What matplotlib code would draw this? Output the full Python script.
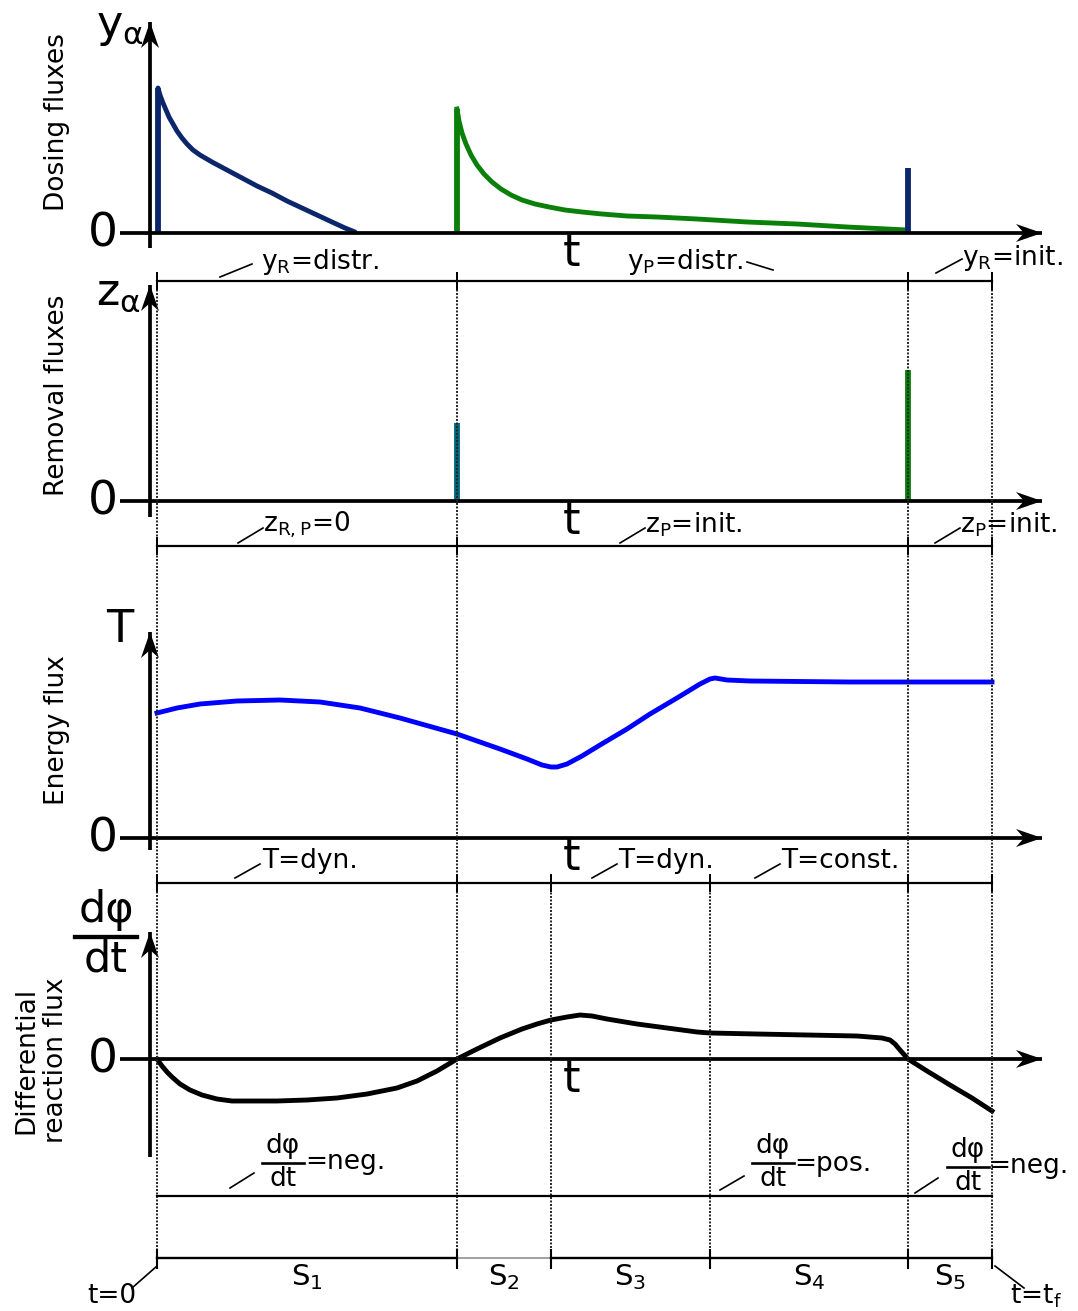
"""
Schematic of the five operating stages: dosing, removal, energy and
differential reaction fluxes over one batch (t=0 ... t=tf).
"""

import matplotlib.pyplot as plt

# ---- data (time in arbitrary units, t=0 ... tf) ----
t_switch = [0, 300, 394, 553, 751, 835]
stage_names = ["S$_\\mathregular{1}$", "S$_\\mathregular{2}$", "S$_\\mathregular{3}$",
               "S$_\\mathregular{4}$", "S$_\\mathregular{5}$"]

# dosing flux of R at start (pulse + decaying profile)
dose_R_t = [1, 3, 6, 9, 12, 16, 20, 25, 30, 36, 43, 55, 70, 85, 100,
            115, 130, 145, 160, 175, 188, 198]
dose_R_v = [145, 138, 130, 123, 116, 109, 102, 95, 89, 83, 78, 71, 63,
            55, 47, 40, 32, 25, 18, 11, 5, 1]
dose_R_peak = 145
# dosing flux of P after S1 (pulse + decaying profile)
dose_P_t = [300, 302, 305, 309, 314, 320, 327, 335, 344, 354, 365, 378,
            392, 408, 425, 445, 470, 500, 540, 590, 640, 690, 750]
dose_P_v = [124, 112, 100, 89, 78, 68, 59, 51, 44, 38, 33, 29, 26, 23,
            21, 19, 17, 16, 14, 11, 9, 6, 3]
dose_P_peak = 124
# re-initialisation pulse of R at start of S5
dose_R_end = 65

# removal pulses
remove_t = [300, 751]
remove_v = [78, 131]

# energy flux (temperature profile)
temp_t = [0, 20, 43, 80, 123, 163, 203, 243, 300, 343, 370, 385, 394,
          400, 410, 425, 443, 470, 493, 520, 543, 553, 558, 570, 593,
          693, 835]
temp_v = [125, 130, 134, 137, 138, 136, 130, 120, 104, 89, 79, 73, 71,
          71, 74, 82, 93, 109, 124, 140, 154, 159, 160, 158, 157, 156,
          156]

# differential reaction flux
rate_t = [0, 5, 10, 15, 23, 33, 45, 60, 75, 90, 120, 150, 180, 210, 240,
          260, 280, 300, 320, 343, 365, 380, 394, 410, 423, 435, 450, 480,
          510, 540, 553, 600, 650, 700, 725, 733, 738, 743, 751, 770, 793,
          815, 835]
rate_v = [0, -7, -13, -18, -25, -31, -36, -40, -42, -42, -42, -41, -39,
          -35, -29, -22, -12, 0, 10, 21, 30, 35, 39, 42, 44, 43, 40, 35,
          31, 27, 26, 25, 24, 23, 21, 19, 15, 9, 0, -12, -26, -39, -52]

NAVY = "#0c266b"
GREEN = "#0a800a"
TEAL = "#00667f"
BLUE = "#0000ff"

T0 = 157          # pixel column of t=0
W, H = 1078, 1311
FS = 19           # annotation font size

fig = plt.figure(figsize=(W / 100, H / 100), dpi=100)

# overlay for layout lines and text (pixel coordinates)
ov = fig.add_axes([0, 0, 1, 1], zorder=5)
ov.set_xlim(0, W)
ov.set_ylim(H, 0)
ov.axis("off")
ov.patch.set_alpha(0)


def panel(top, bottom, base):
    """Axes spanning pixel rows top..bottom, value 0 at row base."""
    ax = fig.add_axes([0, 1 - bottom / H, 1, (bottom - top) / H], zorder=2)
    ax.set_xlim(-T0, W - T0)
    ax.set_ylim(-(bottom - base), base - top)
    ax.axis("off")
    return ax


def arrow(x0, y0, x1, y1):
    # axis line with a stealth-type head, pixel coords
    ov.plot([x0, x1], [y0, y1], color="black", lw=2.7, solid_capstyle="butt")
    if x0 == x1:
        d = -1 if y1 < y0 else 1
        xs = [x1, x1 - 9, x1, x1 + 9]
        ys = [y1, y1 - d * 26, y1 - d * 18, y1 - d * 26]
    else:
        xs = [x1, x1 - 26, x1 - 18, x1 - 26]
        ys = [y1, y1 - 9, y1, y1 + 9]
    ov.fill(xs, ys, color="black", lw=0)


def leader(x0, y0, x1, y1):
    ov.plot([x0, x1], [y0, y1], color="black", lw=1.2)


def frac(x, ynum, ybar, yden, size, half):
    ov.text(x, ynum, "dφ", fontsize=size, ha="center", va="center")
    ov.plot([x - half, x + half], [ybar, ybar], color="black", lw=size / 10)
    ov.text(x, yden, "dt", fontsize=size, ha="center", va="center")


# ---- panel geometry (pixel rows) ----
bases = [233, 501, 838, 1059]
ax_tops = [22, 285, 632, 932]
ax_bots = [248, 517, 850, 1157]
seg_lines = [281, 546, 883, 1196]

ax1 = panel(0, 283, 233)
ax2 = panel(283, 560, 501)
ax3 = panel(560, 895, 838)
ax4 = panel(895, H, 1059)

for b, top, bot in zip(bases, ax_tops, ax_bots):
    arrow(150, bot, 150, top)
    arrow(120, b, 1042, b)
    ov.text(103, b + 1, "0", fontsize=34, ha="center", va="center")

# ---- curves ----
ax1.vlines(t_switch[0] + 1, 0, dose_R_peak, color=NAVY, lw=4.2)
ax1.plot(dose_R_t, dose_R_v, color=NAVY, lw=3.5, solid_capstyle="round")
ax1.vlines(t_switch[1], 0, dose_P_peak, color=GREEN, lw=4.2)
ax1.plot(dose_P_t, dose_P_v, color=GREEN, lw=3.5)
ax1.vlines(t_switch[4], 0, dose_R_end, color=NAVY, lw=4.2)

ax2.vlines(remove_t[0], 0, remove_v[0], color=TEAL, lw=4.2)
ax2.vlines(remove_t[1], 0, remove_v[1], color=GREEN, lw=4.2)

ax3.plot(temp_t, temp_v, color=BLUE, lw=3.5, solid_joinstyle="round")
ax4.plot(rate_t, rate_v, color="black", lw=3.5, solid_joinstyle="round")

# ---- stage separators ----
xs = [T0 + t for t in t_switch]
for i, x in enumerate(xs):
    y_start = 875 if i in (2, 3) else 272
    ov.plot([x, x], [y_start, 1258], color="#222222", lw=1.4,
            dashes=(1, 0.8))
for i in (0, 1, 4, 5):
    for y in seg_lines[:3]:
        ov.plot([xs[i], xs[i]], [y - 8, y + 8], color="black", lw=1.4)
for i in (2, 3):
    ov.plot([xs[i], xs[i]], [875, 891], color="black", lw=1.4)
for y in seg_lines:
    ov.plot([xs[0], xs[-1]], [y, y], color="black", lw=1.6)

# stage bar
for i in range(5):
    col = "#999999" if i == 1 else "black"
    ov.plot([xs[i], xs[i + 1]], [1258, 1258], color=col,
            lw=1.3 if i == 1 else 1.7)
    ov.text((xs[i] + xs[i + 1]) / 2, 1277, stage_names[i], fontsize=21,
            ha="center", va="center")
for x in xs:
    ov.plot([x, x], [1250, 1268], color="black", lw=1.5)
leader(xs[0], 1266, 132, 1288)
ov.text(112, 1296, "t=0", fontsize=FS, ha="center", va="center")
leader(xs[-1] + 3, 1266, 1024, 1288)
ov.text(1036, 1296, "t=t$_\\mathregular{f}$", fontsize=FS, ha="center",
        va="center")

# ---- axis titles ----
ov.text(57, 122, "Dosing fluxes", fontsize=FS, rotation=90, ha="center",
        va="center")
ov.text(57, 395, "Removal fluxes", fontsize=FS, rotation=90, ha="center",
        va="center")
ov.text(57, 730, "Energy flux", fontsize=FS, rotation=90, ha="center",
        va="center")
ov.text(41, 1060, "Differential\nreaction flux", fontsize=FS, rotation=90,
        ha="center", va="center", linespacing=1.2)

ov.text(120, 26, "y$_\\mathregular{α}$", fontsize=32, ha="center",
        va="center")
ov.text(118, 293, "z$_\\mathregular{α}$", fontsize=32, ha="center",
        va="center")
ov.text(120, 630, "T", fontsize=32, ha="center", va="center")
frac(106, 910, 937, 960, 31, 31)

for y in (254, 522, 858, 1080):
    ov.text(572, y, "t", fontsize=32, ha="center", va="center")

# ---- stage annotations ----
ov.text(261, 262, "y$_\\mathregular{R}$=distr.", fontsize=FS, va="center")
leader(220, 277, 252, 264)
ov.text(627, 262, "y$_\\mathregular{P}$=distr.", fontsize=FS, va="center")
leader(747, 262, 773, 270)
ov.text(962, 258, "y$_\\mathregular{R}$=init.", fontsize=FS, va="center")
leader(936, 273, 962, 259)

ov.text(263, 525, "z$_\\mathregular{R,P}$=0", fontsize=FS, va="center")
leader(238, 543, 263, 528)
ov.text(645, 525, "z$_\\mathregular{P}$=init.", fontsize=FS, va="center")
leader(620, 543, 645, 528)
ov.text(960, 525, "z$_\\mathregular{P}$=init.", fontsize=FS, va="center")
leader(935, 543, 960, 528)

ov.text(262, 861, "T=dyn.", fontsize=FS, va="center")
leader(235, 878, 260, 864)
ov.text(618, 861, "T=dyn.", fontsize=FS, va="center")
leader(592, 878, 617, 864)
ov.text(781, 861, "T=const.", fontsize=FS, va="center")
leader(755, 878, 780, 864)

frac(283, 1146, 1163, 1179, 19, 21)
ov.text(305, 1162, "=neg.", fontsize=FS, va="center")
leader(230, 1188, 254, 1173)
frac(773, 1146, 1163, 1179, 19, 21)
ov.text(794, 1164, "=pos.", fontsize=FS, va="center")
leader(720, 1190, 744, 1176)
frac(968, 1150, 1167, 1183, 19, 21)
ov.text(988, 1166, "=neg.", fontsize=FS, va="center")
leader(915, 1193, 938, 1178)

fig.savefig("out.png", dpi=100)
